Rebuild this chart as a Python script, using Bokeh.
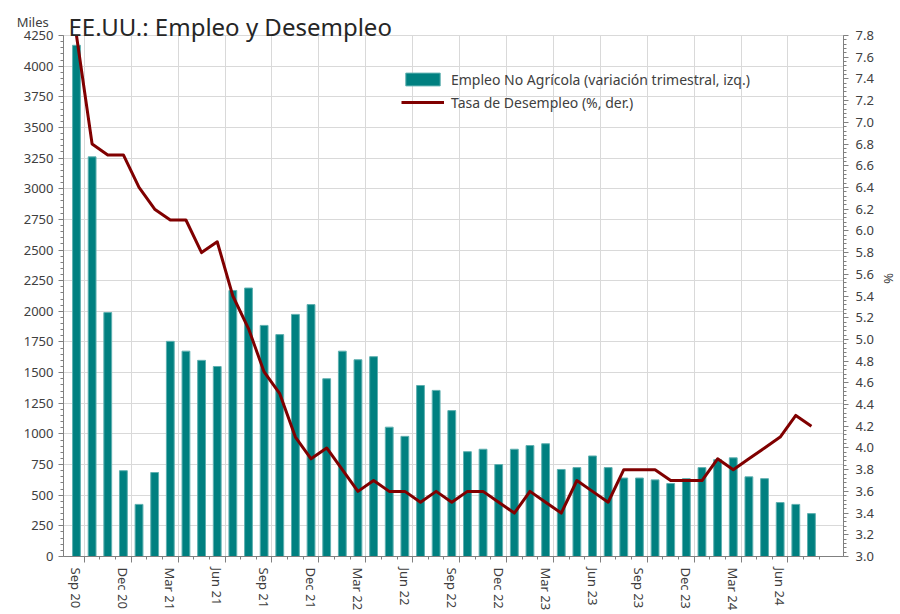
from bokeh.plotting import figure
from bokeh.models import (ColumnDataSource, Range1d, LinearAxis, FixedTicker,
                          SingleIntervalTicker, Legend, LegendItem, Label,
                          PrintfTickFormatter)
from bokeh.embed import file_html
from bokeh.resources import INLINE

# ---------------- data ----------------
months = ["Sep 20", "Oct 20", "Nov 20", "Dec 20",
          "Jan 21", "Feb 21", "Mar 21", "Apr 21", "May 21", "Jun 21",
          "Jul 21", "Aug 21", "Sep 21", "Oct 21", "Nov 21", "Dec 21",
          "Jan 22", "Feb 22", "Mar 22", "Apr 22", "May 22", "Jun 22",
          "Jul 22", "Aug 22", "Sep 22", "Oct 22", "Nov 22", "Dec 22",
          "Jan 23", "Feb 23", "Mar 23", "Apr 23", "May 23", "Jun 23",
          "Jul 23", "Aug 23", "Sep 23", "Oct 23", "Nov 23", "Dec 23",
          "Jan 24", "Feb 24", "Mar 24", "Apr 24", "May 24", "Jun 24",
          "Jul 24", "Aug 24"]

payrolls = [4170, 3260, 1990, 700, 425, 685, 1755, 1675, 1600, 1550,
            2170, 2190, 1885, 1810, 1975, 2055, 1450, 1675, 1605, 1630,
            1055, 980, 1395, 1355, 1190, 855, 875, 750, 875, 905,
            920, 710, 725, 820, 725, 640, 640, 625, 595, 635,
            725, 790, 805, 650, 635, 440, 425, 350]

unemployment = [7.8, 6.8, 6.7, 6.7, 6.4, 6.2, 6.1, 6.1, 5.8, 5.9,
                5.4, 5.1, 4.7, 4.5, 4.1, 3.9, 4.0, 3.8, 3.6, 3.7,
                3.6, 3.6, 3.5, 3.6, 3.5, 3.6, 3.6, 3.5, 3.4, 3.6,
                3.5, 3.4, 3.7, 3.6, 3.5, 3.8, 3.8, 3.8, 3.7, 3.7,
                3.7, 3.9, 3.8, 3.9, 4.0, 4.1, 4.3, 4.2]

label_step = 3
left_axis = (0, 4250, 250, 50)
right_axis = (3.0, 7.8, 0.2)

title_text = "EE.UU.:  Empleo y Desempleo"
unit_left = "Miles"
unit_right = "%"
bar_label = "Empleo No Agrícola (variación trimestral, izq.)"
line_label = "Tasa de Desempleo (%, der.)"

# ---------------- layout / styling ----------------
FONT = "Noto Sans"
TXT = "#404040"
AXIS = "#808080"
GRID = "#d9d9d9"

W, H = 900, 614
BORDER_L, BORDER_R, BORDER_B = 63, 53, 58
TOP_GAP = 35                      # pixels between canvas top and the top of the value axes
frame_h = H - BORDER_B
stretch = frame_h / (frame_h - TOP_GAP)

idx = list(range(len(months)))
src = ColumnDataSource(dict(x=idx, payrolls=payrolls, unemployment=unemployment))

p = figure(width=W, height=H,
           x_range=Range1d(-0.83, 49.05),
           y_range=Range1d(left_axis[0], left_axis[0] + (left_axis[1] - left_axis[0]) * stretch),
           output_backend="svg", toolbar_location=None,
           min_border_left=BORDER_L, min_border_right=BORDER_R,
           min_border_top=0, min_border_bottom=BORDER_B)
p.outline_line_color = None
p.background_fill_color = "white"
p.border_fill_color = "white"

# bottom axis: tick marks at month boundaries
boundary_major = [i + 0.5 for i in idx[::label_step]]
boundary_minor = [i + 0.5 for i in idx]
xt = FixedTicker(ticks=boundary_major, minor_ticks=boundary_minor)
xa = p.xaxis[0]
xa.ticker = xt
xa.major_label_text_font_size = "1px"
xa.major_label_text_alpha = 0
xa.major_label_standoff = 0
xa.major_tick_in = 0
xa.major_tick_out = 6
xa.minor_tick_in = 0
xa.minor_tick_out = 3
xa.axis_line_color = AXIS
xa.major_tick_line_color = AXIS
xa.minor_tick_line_color = AXIS
xg = p.xgrid[0]
xg.ticker = xt
xg.grid_line_color = GRID
if "cross_bounds" in xg.properties():
    xg.cross_bounds = (left_axis[0], left_axis[1])

# bottom axis: labels centred on the labelled months
la = LinearAxis(ticker=FixedTicker(ticks=idx[::label_step]),
                major_label_overrides={i: months[i] for i in idx[::label_step]},
                major_label_orientation="vertical",
                axis_line_color=None, major_tick_line_color=None,
                minor_tick_line_color=None, major_tick_out=0, minor_tick_out=0,
                major_tick_in=0, minor_tick_in=0,
                major_label_standoff=5,
                major_label_text_font=FONT, major_label_text_font_size="13px",
                major_label_text_color=TXT)
p.add_layout(la, "below")

# left axis (unit label "Miles" at its top end, pushed down by two empty lines)
yt = FixedTicker(ticks=list(range(left_axis[0], left_axis[1] + 1, left_axis[2])),
                 minor_ticks=list(range(left_axis[0], left_axis[1] + 1, left_axis[3])))
ya = p.yaxis[0]
ya.ticker = yt
ya.bounds = (left_axis[0], left_axis[1])
ya.major_tick_in = 0
ya.major_tick_out = 5
ya.minor_tick_in = 0
ya.minor_tick_out = 3
ya.major_label_standoff = 5
ya.axis_line_color = AXIS
ya.major_tick_line_color = AXIS
ya.minor_tick_line_color = AXIS
ya.major_label_text_font = FONT
ya.major_label_text_font_size = "13px"
ya.major_label_text_color = TXT
ya.axis_label = "\n\n" + unit_left
ya.axis_label_orientation = "horizontal"
ya.axis_label_align = "end"
ya.axis_label_standoff = -28
ya.axis_label_text_font = FONT
ya.axis_label_text_font_size = "13px"
ya.axis_label_text_font_style = "normal"
ya.axis_label_text_color = TXT
yg = p.ygrid[0]
yg.ticker = yt
yg.bounds = (left_axis[0], left_axis[1])
yg.grid_line_color = GRID

# right axis
p.extra_y_ranges = {"pct": Range1d(right_axis[0],
                                   right_axis[0] + (right_axis[1] - right_axis[0]) * stretch)}
ra = LinearAxis(y_range_name="pct",
                ticker=SingleIntervalTicker(interval=right_axis[2], num_minor_ticks=5),
                bounds=(right_axis[0] - 1e-6, right_axis[1] + 1e-6),
                formatter=PrintfTickFormatter(format="%.1f"),
                axis_label=unit_right, axis_label_standoff=3,
                axis_label_text_font=FONT, axis_label_text_font_size="13px",
                axis_label_text_font_style="normal", axis_label_text_color=TXT,
                major_tick_in=0, major_tick_out=5, minor_tick_in=0, minor_tick_out=3,
                major_label_standoff=7,
                axis_line_color=AXIS, major_tick_line_color=AXIS,
                minor_tick_line_color=AXIS,
                major_label_text_font=FONT, major_label_text_font_size="13px",
                major_label_text_color=TXT)
p.add_layout(ra, "right")

# glyphs
bars = p.vbar(x="x", top="payrolls", width=0.5, source=src,
              fill_color="#008080", line_color="#5fb0b0", line_width=1)
line = p.line(x="x", y="unemployment", y_range_name="pct", source=src,
              line_color="#800000", line_width=3, line_join="round")

legend = Legend(items=[LegendItem(label=bar_label, renderers=[bars]),
                       LegendItem(label=line_label, renderers=[line])],
                location=(338, frame_h - 112), background_fill_alpha=0,
                border_line_color=None, padding=0, margin=0, spacing=3,
                glyph_width=43, glyph_height=16, label_height=20,
                label_standoff=7, label_text_font=FONT,
                label_text_font_size="14px", label_text_color=TXT)
p.add_layout(legend)

p.add_layout(Label(x=5, y=frame_h - 26, x_units="screen", y_units="screen",
                   text=title_text, text_font=FONT, text_font_size="24px",
                   text_color="#262626", text_baseline="alphabetic"))

open("out.html", "w").write(file_html(p, INLINE))
